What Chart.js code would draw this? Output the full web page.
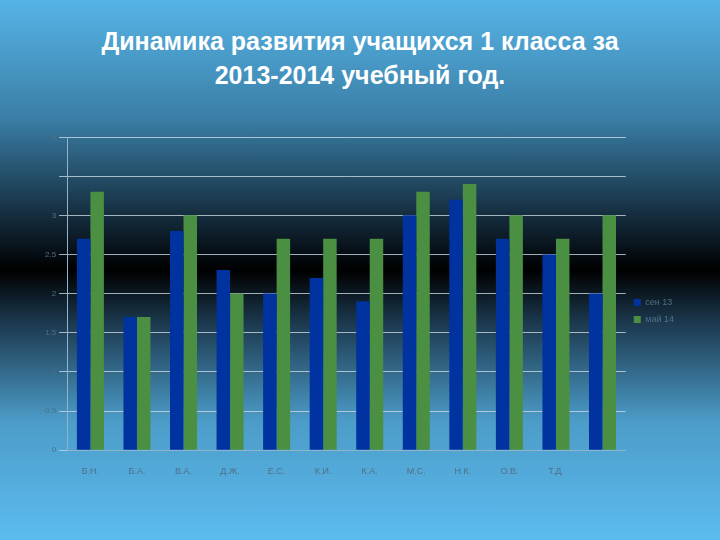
<!DOCTYPE html>
<html>
<head>
<meta charset="utf-8">
<script src="https://cdn.jsdelivr.net/npm/chart.js@4"></script>
<style>
  html, body { margin: 0; padding: 0; }
  body {
    width: 720px; height: 540px; overflow: hidden;
    background: linear-gradient(to bottom, #56b4e6 0%, #3a7ea6 22%, #0a1620 45%, #000 50%, #1c3a50 60%, #4c9cc8 78%, #5cbcf0 100%);
    font-family: "Liberation Sans", Arial, sans-serif;
  }
  h1 {
    margin: 0; position: absolute; top: 24px; left: 0; width: 720px;
    text-align: center; color: #fff; font-size: 25px; font-weight: bold; line-height: 34px;
  }
  #wrap { position: absolute; left: 42px; top: 128px; width: 642px; height: 357px; }
</style>
</head>
<body>
<h1>Динамика развития учащихся 1 класса за<br>2013-2014 учебный год.</h1>
<div id="wrap"><canvas id="chart"></canvas></div>
<script>
const labels = ['Б.Н.', 'Б.А.', 'В.А.', 'Д.Ж.', 'Е.С.', 'К.И.', 'К.А.', 'М.С.', 'Н.К.', 'О.В.', 'Т.Д.', ''];
const sep13 = [2.7, 1.7, 2.8, 2.3, 2.0, 2.2, 1.9, 3.0, 3.2, 2.7, 2.5, 2.0];
const may14 = [3.3, 1.7, 3.0, 2.0, 2.7, 2.7, 2.7, 3.3, 3.4, 3.0, 2.7, 3.0];
const seriesNames = ['сен 13', 'май 14'];

const tickColor = '#4f7088';

new Chart('chart', {
  type: 'bar',
  data: {
    labels: labels,
    datasets: [
      { label: seriesNames[0], data: sep13, backgroundColor: '#0033a0', categoryPercentage: 0.58, barPercentage: 1 },
      { label: seriesNames[1], data: may14, backgroundColor: '#4a8f42', categoryPercentage: 0.58, barPercentage: 1 },
    ],
  },
  options: {
    responsive: true,
    maintainAspectRatio: false,
    animation: false,
    layout: { padding: { top: 9 } },
    plugins: {
      legend: {
        position: 'right',
        labels: { boxWidth: 7, boxHeight: 7, color: tickColor, font: { size: 9 }, padding: 8 },
      },
      tooltip: { enabled: false },
    },
    scales: {
      x: {
        grid: { display: false },
        border: { color: '#8fb4cc' },
        ticks: { color: tickColor, font: { size: 9 }, padding: 8 },
      },
      y: {
        min: 0,
        max: 4,
        ticks: {
          stepSize: 0.5,
          color: tickColor,
          font: { size: 8 },
          callback: function (v) { return Math.abs(v - 3.5) < 0.01 ? '' : String(v); },
        },
        grid: { color: 'rgba(200,215,225,0.8)' },
        border: { color: '#8fb4cc' },
      },
    },
  },
});
</script>
</body>
</html>
